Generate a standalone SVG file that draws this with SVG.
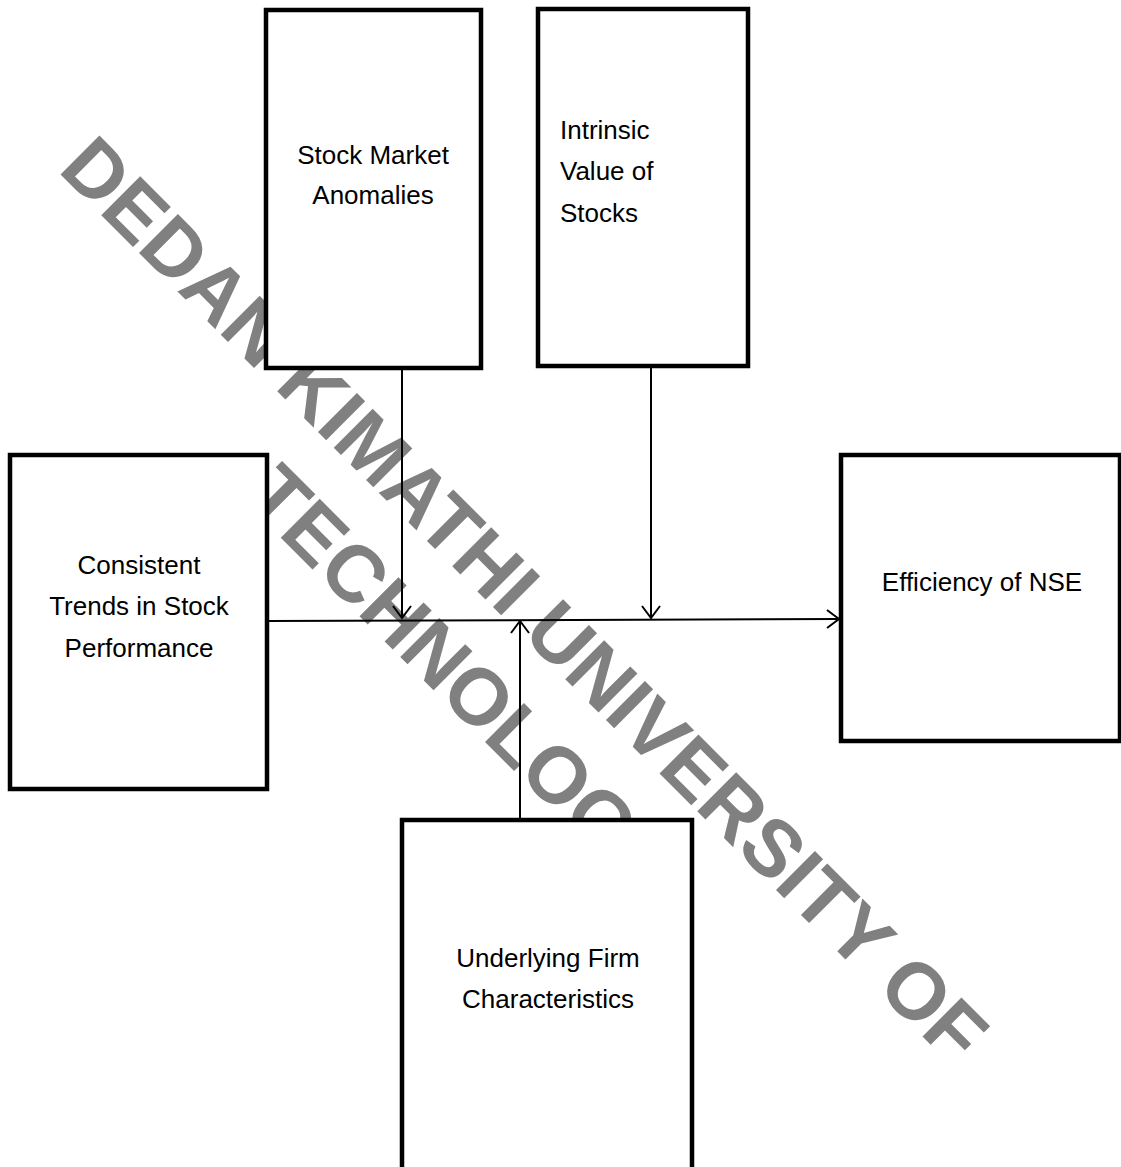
<svg xmlns="http://www.w3.org/2000/svg" width="1121" height="1167" viewBox="0 0 1121 1167">
<style>
.box{fill:#fff;stroke:#000;stroke-width:4.5;stroke-linejoin:miter}
.lbl{font-family:"Liberation Sans",Arial,sans-serif;font-size:26px;fill:#000}
.wm{font-family:"Liberation Sans",Arial,sans-serif;font-weight:bold;font-size:80px;fill:#808080}
.con{stroke:#000;stroke-width:2;fill:none}
</style>
<defs>
<marker id="arr" viewBox="0 0 14 20" refX="13" refY="10" markerWidth="14" markerHeight="20" markerUnits="userSpaceOnUse" orient="auto">
<path d="M1,1 L13,10 L1,19" fill="none" stroke="#000" stroke-width="2"/>
</marker>
</defs>
<rect width="1121" height="1167" fill="#fff"/>
<g id="watermark" transform="translate(505,619) rotate(45)">
<text class="wm" x="0" y="0" text-anchor="middle">DEDAN KIMATHI UNIVERSITY OF</text>
<text class="wm" x="12" y="101" text-anchor="middle">TECHNOLOGY</text>
</g>
<g id="node-anomalies">
<rect class="box" x="266" y="10" width="215" height="358"/>
<text class="lbl" x="373" y="164" text-anchor="middle">Stock Market</text>
<text class="lbl" x="373" y="204" text-anchor="middle">Anomalies</text>
</g>
<g id="node-intrinsic">
<rect class="box" x="538" y="9" width="210" height="357"/>
<text class="lbl" x="560" y="139">Intrinsic</text>
<text class="lbl" x="560" y="180">Value of</text>
<text class="lbl" x="560" y="222">Stocks</text>
</g>
<g id="node-trends">
<rect class="box" x="10" y="455" width="257" height="334"/>
<text class="lbl" x="139" y="574" text-anchor="middle">Consistent</text>
<text class="lbl" x="139" y="615" text-anchor="middle">Trends in Stock</text>
<text class="lbl" x="139" y="657" text-anchor="middle">Performance</text>
</g>
<g id="node-efficiency">
<rect class="box" x="841" y="455" width="279" height="286"/>
<text class="lbl" x="982" y="591" text-anchor="middle">Efficiency of NSE</text>
</g>
<g id="node-firm">
<rect class="box" x="402" y="820" width="290" height="350"/>
<text class="lbl" x="548" y="967" text-anchor="middle">Underlying Firm</text>
<text class="lbl" x="548" y="1008" text-anchor="middle">Characteristics</text>
</g>
<g id="connectors">
<line class="con" x1="267" y1="621" x2="839" y2="619" marker-end="url(#arr)"/>
<line class="con" x1="402" y1="368" x2="402" y2="618" marker-end="url(#arr)"/>
<line class="con" x1="651" y1="366" x2="651" y2="618" marker-end="url(#arr)"/>
<line class="con" x1="520" y1="820" x2="520" y2="621" marker-end="url(#arr)"/>
</g>
</svg>
